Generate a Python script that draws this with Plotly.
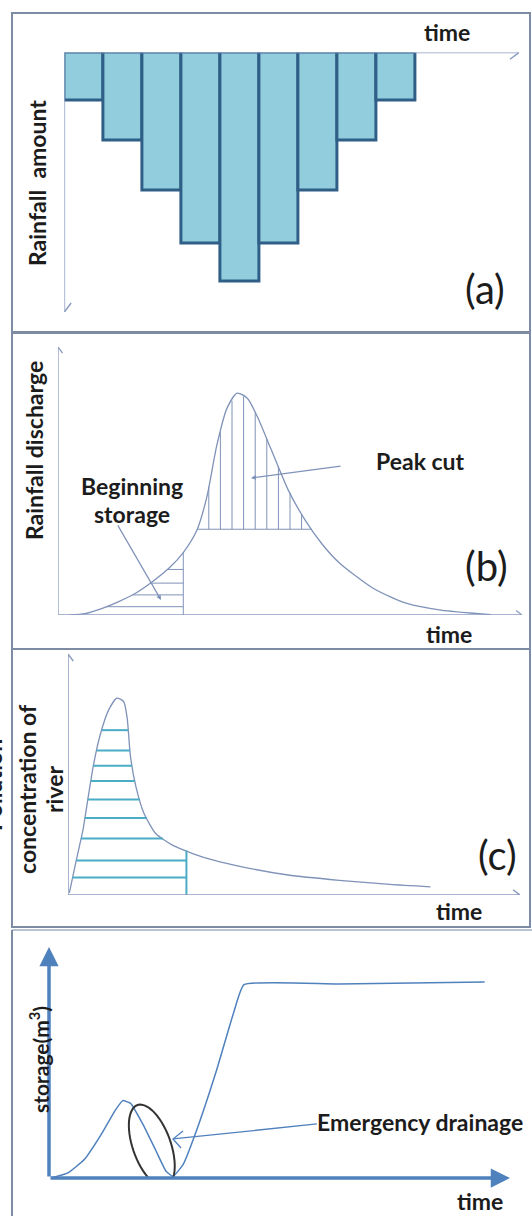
import numpy as np
import plotly.graph_objects as go

W, H = 532, 1216

# ---------------- data ----------------
# (a) rainfall hyetograph
rain_time = [1, 2, 3, 4, 5, 6, 7, 8, 9]
rain_amount = [1.0, 1.85, 2.9, 4.0, 4.8, 4.0, 2.9, 1.85, 1.0]

# (b) rainfall discharge hydrograph
dis_t = [2.5, 5.8, 9.4, 13.1, 16.7, 20.4, 24.0, 27.0, 29.9, 32.1, 34.2, 36.4, 38.6,
         40.8, 43.0, 45.9, 49.6, 53.3, 56.9, 60.6, 67.9, 75.2, 82.5, 93.4]
dis_q = [0.0, 0.5, 2.4, 5.0, 8.1, 12.5, 17.6, 23.3, 31.5, 44.2, 63.1, 77.1, 82.8,
         80.9, 73.9, 61.9, 46.7, 35.3, 26.5, 19.5, 10.0, 4.3, 1.8, 0.1]
cut_level = 32.0
storage_end_t = 27.0
peak_hatch_t = [32.5, 35.0, 37.5, 40.0, 42.5, 45.0, 47.5, 50.0, 52.5]
storage_hatch_q = [3.1, 7.5, 11.9, 17.0]

# (c) pollution concentration of river
conc_t = [0.3, 1.8, 3.3, 4.5, 5.6, 7.1, 9.0, 10.8, 12.3, 13.1, 13.8, 15.0, 16.8,
          19.4, 23.2, 30.0, 37.5, 48.7, 60.0, 71.2, 80.2]
conc_c = [0.9, 14.2, 26.9, 41.0, 53.6, 66.3, 76.8, 81.7, 80.3, 73.3, 57.8, 45.2, 33.9,
          25.5, 20.6, 15.6, 12.1, 8.3, 6.1, 4.4, 3.4]
conc_hatch_c = [68.4, 60.0, 53.6, 47.3, 39.6, 31.9, 23.4, 14.3, 7.3]
conc_end_t = 26.2

# (d) storage
stor_t = [0.4, 4.1, 7.7, 11.4, 14.4, 16.0, 17.7, 20.3, 23.2, 25.4, 26.9, 29.1, 32.0,
          36.4, 40.1, 42.3, 62.9, 94.5]
stor_s = [0.0, 2.2, 8.1, 19.1, 29.4, 33.5, 32.3, 23.5, 11.8, 2.9, 0.7, 5.9, 20.6,
          47.0, 71.9, 83.7, 84.0, 84.9]
drain_center = (22.3, 14.0)

# ---------------- helpers ----------------
def px(x):
    return x / W

def py(y):
    return 1 - y / H

AX = '#8C9DC0'
CURVE = '#7F92B8'
CYAN = '#4BACC6'
BLUE = '#4F81BD'
TXT = '#1c1c1c'
FONT = 'Lato'
LBL = 23

shapes = []
annotations = []


def line(xr, yr, x0, y0, x1, y1, color, width):
    shapes.append(dict(type='line', xref=xr, yref=yr, x0=x0, y0=y0, x1=x1, y1=y1,
                       line=dict(color=color, width=width), layer='above'))


def vhead(xr, yr, x, y, d, color, width, s=7):
    if d == 'right':
        p = f"M{-s},{s*0.75} L0,0 L{-s},{-s*0.75}"
    elif d == 'up':
        p = f"M{-s*0.75},{-s} L0,0 L{s*0.75},{-s}"
    else:
        p = f"M{-s*0.75},{s} L0,0 L{s*0.75},{s}"
    shapes.append(dict(type='path', xref=xr, yref=yr, xsizemode='pixel', ysizemode='pixel',
                       xanchor=x, yanchor=y, path=p, line=dict(color=color, width=width),
                       layer='above'))


def text(t, x, y, size=LBL, bold=True, angle=0, color=TXT):
    annotations.append(dict(text=f"<b>{t}</b>" if bold else t, x=px(x), y=py(y),
                            xref='paper', yref='paper', showarrow=False, textangle=angle,
                            xanchor='center', yanchor='middle',
                            font=dict(family=FONT, size=size, color=color)))


def arrow(xr, yr, x, y, ax, ay, color, width, head=2, size=1.0):
    annotations.append(dict(text='', x=x, y=y, ax=ax, ay=ay, xref=xr, yref=yr,
                            axref=xr, ayref=yr, showarrow=True, arrowhead=head,
                            arrowsize=size, arrowwidth=width, arrowcolor=color, standoff=0))


fig = go.Figure()

# ---------------- panel frames ----------------
FRAME = '#7E8CA3'
for (y0, y1) in [(13, 332), (333, 649), (649, 927)]:
    shapes.append(dict(type='rect', xref='paper', yref='paper', x0=px(12), x1=px(530),
                       y0=py(y1), y1=py(y0), line=dict(color=FRAME, width=2)))
shapes.append(dict(type='line', xref='paper', yref='paper', x0=px(12), x1=px(532),
                   y0=py(930), y1=py(930), line=dict(color='#B8C2D2', width=2)))
shapes.append(dict(type='line', xref='paper', yref='paper', x0=px(12), x1=px(12),
                   y0=py(930), y1=py(1216), line=dict(color=FRAME, width=2)))

# ---------------- (a) ----------------
fig.add_trace(go.Bar(x=rain_time, y=rain_amount, width=1.0, base=0,
                     marker=dict(color='#92CDDD', line=dict(color='#2F5F87', width=3)),
                     xaxis='x', yaxis='y', hoverinfo='skip'))
a_xmax = 0.5 + (519 - 64.4) / 38.96
a_ymax = (312 - 52.5) / 47.7
line('x', 'y', 0.5, 0, a_xmax, 0, AX, 1.5)
vhead('x', 'y', a_xmax, 0, 'right', AX, 1.5, s=9)
line('x', 'y', 0.5, 0, 0.5, a_ymax, AX, 1.5)
vhead('x', 'y', 0.5, a_ymax, 'down', AX, 1.5, s=9)
text('time', 447, 32)
text('Rainfall  amount', 37, 183, angle=-90)
text('(a)', 485, 289, size=40, bold=False)

# ---------------- (b) ----------------
fig.add_trace(go.Scatter(x=dis_t, y=dis_q, mode='lines', line=dict(color=CURVE, width=1.3, shape='spline', smoothing=0.7),
                         xaxis='x2', yaxis='y2', hoverinfo='skip'))
ipk = int(np.argmax(dis_q))
rise_t, rise_q = np.array(dis_t[:ipk + 1]), np.array(dis_q[:ipk + 1])
fall_t, fall_q = np.array(dis_t[ipk:])[::-1], np.array(dis_q[ipk:])[::-1]
hx, hy = [], []
cl0 = float(np.interp(cut_level, rise_q, rise_t))
cl1 = float(np.interp(cut_level, fall_q, fall_t))
hx += [cl0, cl1, None]; hy += [cut_level, cut_level, None]
for t in peak_hatch_t:
    hx += [t, t, None]; hy += [cut_level, float(np.interp(t, dis_t, dis_q)), None]
se_q = float(np.interp(storage_end_t, dis_t, dis_q))
hx += [storage_end_t, storage_end_t, None]; hy += [0, se_q, None]
for q in storage_hatch_q:
    hx += [float(np.interp(q, rise_q, rise_t)), storage_end_t, None]; hy += [q, q, None]
fig.add_trace(go.Scatter(x=hx, y=hy, mode='lines', line=dict(color=CURVE, width=1),
                         xaxis='x2', yaxis='y2', hoverinfo='skip'))
line('x2', 'y2', 0, 0, 100, 0, AX, 1.3)
vhead('x2', 'y2', 100, 0, 'right', AX, 1.3, s=6)
line('x2', 'y2', 0, 0, 0, 100, AX, 1.3)
vhead('x2', 'y2', 0, 100, 'up', AX, 1.3, s=6)
arrow('x2', 'y2', 41.6, 51.1, 61.2, 55.6, CURVE, 1.2, head=2, size=0.8)
arrow('x2', 'y2', 22.2, 5.6, 12.7, 34.0, CURVE, 1.2, head=2, size=0.8)
text('Rainfall discharge', 34, 451, angle=-90)
text('Peak cut', 420, 461)
text('Beginning', 132, 486)
text('storage', 132, 514)
text('(b)', 486, 566, size=40, bold=False)
text('time', 449, 634)

# ---------------- (c) ----------------
fig.add_trace(go.Scatter(x=conc_t, y=conc_c, mode='lines', line=dict(color=CURVE, width=1.3, shape='spline', smoothing=0.6),
                         xaxis='x3', yaxis='y3', hoverinfo='skip'))
ipc = int(np.argmax(conc_c))
crt, crc = np.array(conc_t[:ipc + 1]), np.array(conc_c[:ipc + 1])
cft, cfc = np.array(conc_t[ipc:])[::-1], np.array(conc_c[ipc:])[::-1]
cx, cy = [], []
for c in conc_hatch_c:
    x0 = float(np.interp(c, crc, crt))
    x1 = min(float(np.interp(c, cfc, cft)), conc_end_t)
    cx += [x0, x1, None]; cy += [c, c, None]
ce_c = float(np.interp(conc_end_t, conc_t, conc_c))
cx += [conc_end_t, conc_end_t, None]; cy += [0, ce_c, None]
fig.add_trace(go.Scatter(x=cx, y=cy, mode='lines', line=dict(color=CYAN, width=2),
                         xaxis='x3', yaxis='y3', hoverinfo='skip'))
line('x3', 'y3', 0, 0, 100, 0, AX, 1.5)
vhead('x3', 'y3', 100, 0, 'right', AX, 1.5, s=7)
line('x3', 'y3', 0, 0, 0, 100, AX, 1.5)
vhead('x3', 'y3', 0, 100, 'up', AX, 1.5, s=7)
text('concentration of', 27, 789, angle=-90)
text('river', 54, 790, angle=-90)
text('Pollution', -7, 785, angle=-90)
text('(c)', 497, 855, size=40, bold=False)
text('time', 459, 911)

# ---------------- (d) ----------------
fig.add_trace(go.Scatter(x=stor_t, y=stor_s, mode='lines', line=dict(color=BLUE, width=1.5, shape='spline', smoothing=0.4),
                         xaxis='x4', yaxis='y4', hoverinfo='skip'))
arrow('x4', 'y4', 100, 0, 0, 0, BLUE, 3.5, head=2, size=1.1)
arrow('x4', 'y4', 0, 100, 0, 0, BLUE, 3.5, head=2, size=1.1)
th = np.linspace(0, 2 * np.pi, 60)
a_, b_, phi = 43.0, 19.0, np.deg2rad(-70.5)
ex = a_ * np.cos(th) * np.cos(phi) - b_ * np.sin(th) * np.sin(phi)
ey = a_ * np.cos(th) * np.sin(phi) + b_ * np.sin(th) * np.cos(phi)
path = 'M' + ' L'.join(f'{x:.2f},{y:.2f}' for x, y in zip(ex, ey)) + ' Z'
shapes.append(dict(type='path', xref='x4', yref='y4', xsizemode='pixel', ysizemode='pixel',
                   xanchor=drain_center[0], yanchor=drain_center[1], path=path,
                   line=dict(color='#333333', width=2), layer='above'))
line('x4', 'y4', 58.1, 23.4, 26.9, 16.9, BLUE, 1.3)
shapes.append(dict(type='path', xref='x4', yref='y4', xsizemode='pixel', ysizemode='pixel',
                   xanchor=26.9, yanchor=16.9, path='M10,8 L0,0 L8,-9',
                   line=dict(color=BLUE, width=1.3), layer='above'))
text('storage(m<sup>3</sup>)', 39, 1060, size=21, angle=-90)
text('Emergency drainage', 420, 1122)
text('time', 480, 1201)

hidden = dict(visible=False, showgrid=False, zeroline=False, fixedrange=True)
fig.update_layout(
    width=W, height=H, margin=dict(l=0, r=0, t=0, b=0),
    paper_bgcolor='white', plot_bgcolor='rgba(0,0,0,0)', showlegend=False,
    bargap=0,
    xaxis=dict(domain=[px(64.4), px(519)], range=[0.5, a_xmax], anchor='y', **hidden),
    yaxis=dict(domain=[py(312), py(52.5)], range=[a_ymax, 0], anchor='x', **hidden),
    xaxis2=dict(domain=[px(58), px(522)], range=[0, 100], anchor='y2', **hidden),
    yaxis2=dict(domain=[py(615), py(347)], range=[0, 100], anchor='x2', **hidden),
    xaxis3=dict(domain=[px(68), px(520)], range=[0, 100], anchor='y3', **hidden),
    yaxis3=dict(domain=[py(895), py(654)], range=[0, 100], anchor='x3', **hidden),
    xaxis4=dict(domain=[px(49), px(510)], range=[0, 100], anchor='y4', **hidden),
    yaxis4=dict(domain=[py(1178), py(947)], range=[0, 100], anchor='x4', **hidden),
    shapes=shapes, annotations=annotations,
)
fig.write_html('out.html', config={'displayModeBar': False},
               post_script="document.body.style.margin='0';document.body.style.overflow='hidden';")
